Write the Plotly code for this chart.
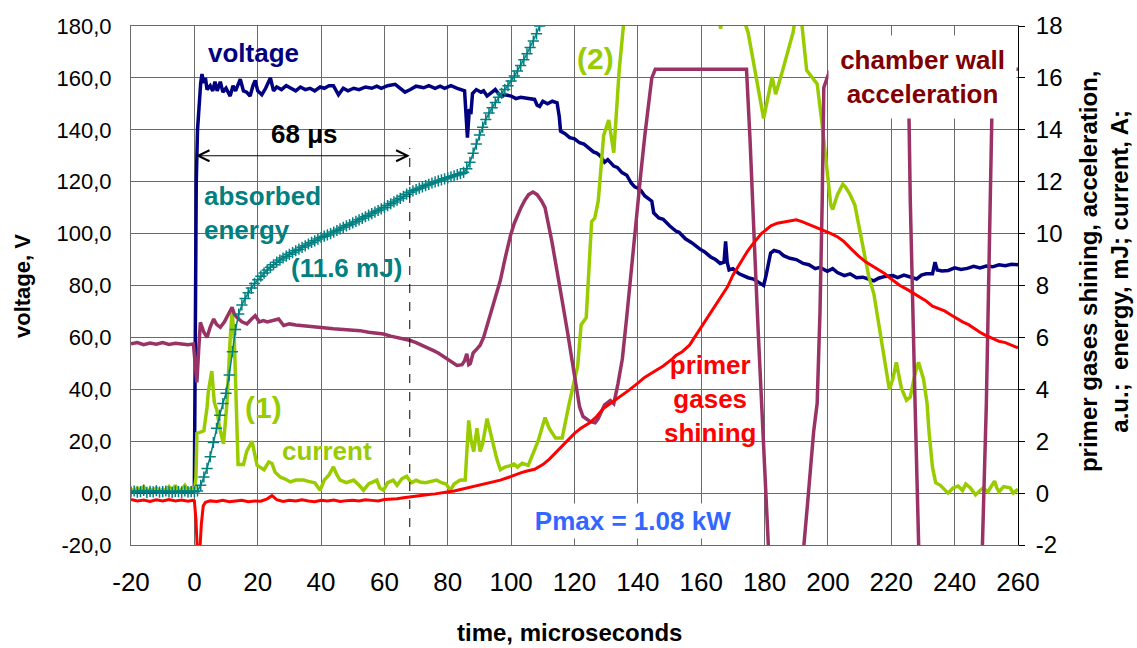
import plotly.graph_objects as go

# ---------------- data ----------------
# voltage, V (left axis)
volt_t = [-20, -15, -10, -5, -0.5, 0, 0.3, 0.6, 1.0, 1.5, 2.0, 2.4, 3, 3.5, 4, 5, 5.8, 6.5, 7.2, 8.2, 9, 10, 11.3, 12.2, 13,
          14.5, 15.5, 16.5, 17.6, 18.5, 19.2, 20, 21.3, 22.5, 24, 25, 26, 27.5, 29, 30.5, 32, 33.5, 35, 36.5, 38, 39.7,
          41, 42.5, 43.9, 45.5, 47, 48.5, 50.3, 52, 54, 56, 57.6, 59, 61, 63.4, 65, 66.5, 68.2, 70, 72.4, 74, 76, 77.6,
          79, 81, 83, 84.5, 85.3, 85.8, 86.2, 86.8, 87.3, 87.8, 89, 90.5, 91.3, 92.4, 93.5, 95, 96.6, 98, 100, 101.5,
          103, 105, 107.4, 108.2, 109, 110, 111.5, 113, 114.5, 115.2, 115.6, 117, 118.5, 120, 121.6, 123, 124.5, 126,
          127, 128.1, 129.5, 130.5, 132.4, 133.5, 135, 136.5, 137.9, 139, 140, 141, 142.2, 143.3, 144.4, 145, 146.6,
          148, 150, 152, 153, 155, 157, 159.6, 161, 163, 164.5, 166, 167.2, 167.7, 168.2, 168.8, 170, 172, 174.8,
          176.5, 178, 179.7, 180.5, 181.3, 181.9, 183, 184.6, 186, 188, 190, 192.2, 194, 196, 197.5, 199.8, 201.5,
          203, 205.2, 207, 209, 211, 213, 214.5, 216, 218, 220.5, 222, 224, 226, 228, 229.5, 231, 233, 233.8, 234.5,
          236, 238, 240, 242, 244, 246, 248, 250, 252, 254, 256, 258, 260]
volt_v = [0.5, 0.3, 0.6, 0.4, 0.5, 2, 60, 120, 140, 150, 158, 161.5, 158, 160, 155.5, 157, 155, 158.5, 155, 158.5, 154.5,
          156, 153, 157, 155, 159.5, 155, 154.5, 153, 157, 159, 155, 153.5, 156, 160, 155, 156.5, 155.5, 157, 156, 155,
          156.5, 155.5, 156, 155, 156.5, 156, 157, 157, 153.5, 156, 155, 156, 155.5, 156.5, 156, 156.8, 156, 157, 157.5,
          156, 154.5, 155.5, 156.8, 156.2, 157, 156, 156.8, 156, 157, 156, 155.5, 155, 145, 137, 148, 146, 154, 155.5,
          154.5, 155, 153, 154, 155.5, 153, 153.5, 153, 152, 152.5, 152, 151.7, 149.5, 149, 151, 150, 151, 150.4, 145,
          139.5, 138.5, 137, 136.5, 135, 134.5, 133, 131.5, 131, 130, 127.5, 128.5, 126, 125.5, 123.5, 122.5, 119.5, 118,
          117.5, 116.5, 114.5, 113.3, 112.5, 108, 106, 105.5, 103, 101, 100.5, 98, 96.5, 94, 93, 91, 90, 88.5, 89, 97,
          89, 86, 86.5, 84.5, 83, 82.5, 81.5, 80, 84, 90, 92.5, 93.5, 93, 91.5, 90.5, 90, 88.5, 88, 86.5, 87, 85.5, 86.5,
          85, 83.8, 84.5, 83, 83.2, 82.4, 81.8, 82.8, 83.5, 83.8, 83, 84, 83.2, 82.5, 84, 84.5, 84.5, 89, 86, 85.6, 85.8,
          86.8, 86.2, 86.6, 87.4, 86.8, 87.5, 87.2, 88, 87.6, 88.2, 88]

# absorbed energy, mJ (right axis)
energy_t = list(range(-20, 111))
energy_v = [0.05, 0.08, 0.04, 0.06, 0.1, 0.03, 0.07, 0.05, 0.09, 0.04, 0.06, 0.08, 0.05, 0.03, 0.07, 0.06, 0.04, 0.08,
            0.05, 0.06, 0.05,
            0.08, 0.3, 0.62, 0.95, 1.4, 1.95, 2.5, 3.0, 3.45, 3.85, 4.55, 5.45, 6.3, 6.9, 7.25, 7.5, 7.72, 7.9, 8.08,
            8.22, 8.36, 8.48, 8.6, 8.7, 8.8, 8.9, 8.98, 9.06, 9.13, 9.2, 9.27, 9.34, 9.4, 9.47, 9.53, 9.6, 9.66, 9.72,
            9.79, 9.85, 9.9, 9.95, 10.0, 10.06, 10.12, 10.18, 10.24, 10.3, 10.35, 10.41, 10.47, 10.53, 10.59, 10.65,
            10.71, 10.77, 10.83, 10.89, 10.95, 11.01, 11.08, 11.15, 11.22, 11.29, 11.36, 11.44, 11.52, 11.59, 11.65,
            11.7, 11.75, 11.8, 11.85, 11.9, 11.95, 11.99, 12.03, 12.07, 12.11, 12.15, 12.19, 12.23, 12.27, 12.31,
            12.36, 12.5, 12.75, 13.1, 13.45, 13.8, 14.1, 14.4, 14.65, 14.85, 15.05, 15.25, 15.4, 15.55, 15.7, 15.88,
            16.07, 16.27, 16.48, 16.7, 16.93, 17.17, 17.42, 17.7, 18.0, 18.3]

# current, A (right axis)
curr_t = [-20, -19, -18, -17, -16, -15, -14, -13, -12, -11, -10, -9, -8, -7, -6, -5, -4, -3, -2, -1, 0, 0.5, 0.8, 1.9,
          3, 4, 4.4, 5.5, 6.3, 7.1, 8, 9.2, 10.3, 11.3, 11.9, 12.6, 13.4, 13.8, 15.5, 16.5, 18.2, 19.2, 19.8, 20.7, 22,
          23.5, 24.5, 25.5, 27.1, 28.5, 30.3, 32, 34.5, 36, 38, 39.7, 41, 42.5, 43.9, 45, 46, 48, 50.3, 52, 53.4, 55,
          57.6, 58.5, 59.7, 61, 62.8, 64, 65.5, 67, 68.5, 70, 71.2, 73, 75, 76.5, 78, 79.5, 80.8, 82, 83.9, 85.5, 86.6,
          87.4, 88.2, 89.2, 90.2, 91, 92.4, 93.5, 94.5, 95.5, 96.6, 98, 99.5, 100.9, 102, 103.5, 105.4, 106.5, 107.4,
          108.5, 110.7, 112, 114, 116.1, 118.3, 121, 122.1, 123.7, 125.4, 126.4, 127.5, 129.2, 130.8, 132.4, 134.1,
          135.7, 137, 150, 165, 166.1, 167, 172, 173.7, 174.8, 177, 179.7, 182.4, 183.5, 185.7, 189, 189.5, 190.5,
          191.7, 193.3, 196.6, 198.2, 200.9, 201.5, 203, 204.7, 205.5, 207, 208.5, 210.7, 212.9, 214.5, 217.2, 219.4,
          220.5, 221.6, 223.2, 224.8, 226, 227.5, 228.6, 230.2, 231.3, 231.9, 233, 234, 235.5, 237.9, 239.5, 241.1,
          242.5, 243.5, 245, 246.6, 248, 249, 250.5, 252.6, 253.3, 254, 255.5, 257.5, 258.5, 260]
curr_v = [0.15, 0.05, 0.2, 0.1, 0.25, 0.05, 0.15, 0.1, 0.2, 0.05, 0.15, 0.1, 0.25, 0.1, 0.3, 0.05, 0.15, 0.3, 0.1, 0.2,
          0.05, 0.6, 2.3, 2.35, 2.4, 3.3, 3.9, 4.7, 3.5, 3.2, 2.5, 1.9, 3.5, 5.9, 7.0, 6.0, 3.0, 1.1, 1.1, 1.6, 2.0, 1.4,
          1.07, 1.0, 0.9, 1.2, 1.14, 0.8, 0.62, 0.55, 0.43, 0.5, 0.5, 0.45, 0.4, 0.11, 0.5, 0.7, 1.01, 0.7, 0.5, 0.4,
          0.5, 0.3, 0.11, 0.35, 0.5, 0.2, 0.11, 0.4, 0.5, 0.3, 0.55, 0.65, 0.4, 0.5, 0.43, 0.4, 0.45, 0.5, 0.4, 0.35,
          0.11, 0.35, 0.5, 0.5, 2.8, 2.0, 1.6, 2.5, 1.6, 1.9, 2.87, 2.3, 1.83, 1.3, 0.9, 1.0, 1.05, 1.12, 1.0, 1.15,
          1.07, 1.4, 1.72, 2.0, 2.91, 2.5, 2.12, 2.12, 3.44, 4.9, 6.49, 6.76, 10.46, 10.6, 11.26, 13.78, 14.38, 13.12,
          16.29, 18.15, 20, 22, 19, 17.9, 18.5, 19.5, 18.15, 17.75, 16.29, 14.44, 16.03, 15.37, 16.29, 17.75, 18.15,
          18.6, 18.15, 16.29, 15.77, 14.18, 11.1, 10.93, 11.5, 11.9, 11.8, 11.5, 11.1, 9.67, 8.34, 7.68, 5.7, 3.98,
          4.4, 5.04, 4.04, 3.58, 3.7, 4.6, 5.04, 4.38, 3.45, 2.38, 1.0, 0.4, 0.3, 0.0, 0.2, 0.27, 0.1, 0.35, 0.2,
          -0.07, 0.1, 0.2, 0.05, 0.46, 0.2, 0.05, 0.25, 0.2, 0.0, 0.15]

# primer gases shining, a.u. (right axis)
shine_t = [-20, -18, -16, -14, -12, -10, -8, -6, -4, -2, -0.5, 0, 0.5, 1.0, 1.6, 2.2, 2.8, 3.5, 5, 7, 9, 11, 13, 15,
           17, 19, 21, 23, 24.5, 26, 28, 30, 32, 34, 36, 38, 40, 42, 44, 46, 48, 50, 52, 54, 56, 58, 60, 62, 64, 66,
           68.2, 70, 72, 74, 76, 78, 80.3, 82, 84, 86, 88, 90, 92.4, 94, 96.6, 99, 101, 103, 105, 107.4, 110, 112,
           114, 116, 118.3, 120, 122, 124.8, 127, 129, 131.3, 133, 135, 137, 140, 142, 144, 146, 148, 150.9, 152, 154,
           156.3, 158, 160, 162, 164, 166, 168.3, 170, 171.6, 173, 174.5, 175.9, 177.5, 179, 180.3, 182, 184, 186.8,
           188.5, 190, 192, 194.4, 196.5, 198.7, 201, 203.1, 205, 207, 209.6, 212, 214, 216.1, 218, 220, 222.6, 225,
           227, 229.2, 231, 233, 235, 236.8, 239, 241, 242.5, 244.4, 246, 248, 249.5, 250.9, 252.5, 254, 256, 258, 260]
shine_v = [-0.25, -0.3, -0.27, -0.32, -0.26, -0.3, -0.25, -0.3, -0.27, -0.31, -0.28, -0.3, -1.0, -2.4, -2.5, -1.2,
           -0.5, -0.35, -0.3, -0.32, -0.28, -0.33, -0.3, -0.28, -0.33, -0.3, -0.31, -0.22, -0.1, -0.25, -0.32, -0.28,
           -0.3, -0.26, -0.3, -0.33, -0.28, -0.3, -0.27, -0.32, -0.29, -0.28, -0.3, -0.26, -0.28, -0.3, -0.25, -0.24,
           -0.22, -0.18, -0.14, -0.1, -0.08, -0.05, -0.03, 0.02, 0.05, 0.08, 0.14, 0.18, 0.25, 0.3, 0.37, 0.43, 0.5,
           0.6, 0.7, 0.78, 0.85, 0.92, 1.1, 1.3, 1.55, 1.8, 2.1, 2.3, 2.5, 2.71, 2.95, 3.25, 3.45, 3.6, 3.75, 3.95,
           4.24, 4.45, 4.6, 4.75, 4.9, 5.17, 5.3, 5.45, 5.7, 6.02, 6.4, 6.78, 7.16, 7.5, 7.95, 8.4, 8.74, 9.0, 9.3,
           9.54, 9.8, 10.0, 10.13, 10.3, 10.4, 10.46, 10.5, 10.53, 10.45, 10.33, 10.25, 10.13, 10.0, 9.87, 9.7, 9.45,
           9.14, 8.9, 8.75, 8.61, 8.45, 8.25, 8.01, 7.85, 7.7, 7.55, 7.4, 7.2, 7.1, 7.02, 6.85, 6.7, 6.6, 6.49, 6.35,
           6.2, 6.1, 6.03, 5.95, 5.85, 5.8, 5.7, 5.6]

# chamber wall acceleration, a.u. (right axis)
accel_t = [-20, -18, -16, -14, -12, -10, -8, -6, -4, -2, -0.3, 0.3, 0.8, 1.4, 1.9, 3, 4, 5, 6.1, 7, 8.2, 9.5, 10.8,
           11.9, 12.6, 13.4, 15, 16.6, 18, 19.2, 20.5, 21.8, 23, 25, 26.6, 28.2, 30, 32, 35.5, 38, 40, 43.9, 47, 50,
           52.3, 55, 57, 59.7, 62, 64, 66, 68.2, 70, 72, 74, 75.5, 77, 79, 81, 82.9, 84.5, 85.3, 86, 86.6, 87.1, 88,
           89.2, 90.2, 91.3, 92.5, 94.5, 95.5, 96.6, 98, 99.8, 101, 102, 103.1, 104.2, 105.5, 106.9, 108.2, 109.6,
           110.7, 112.9, 114.5, 116.1, 117.8, 119.4, 120.5, 121.6, 122.7, 123.7, 125, 126.5, 127.4, 128.1, 129.5,
           131.3, 132.4, 133.7, 135.1, 136.5, 137.9, 139, 140, 141, 142.2, 143.3, 144.4, 145.5, 150, 155, 160, 165,
           170, 174.3, 175.4, 175.9, 177, 178, 179, 180, 181.3, 184, 186.5, 189, 192.2, 193.5, 195.5, 196.6, 197.5,
           198.2, 198.7, 200.4, 205, 210, 215, 220, 225, 225.6, 226, 227.5, 228.7, 231, 240, 246, 248.7, 250.0,
           251.4, 251.9, 252.5, 256, 260]
accel_v = [5.75, 5.8, 5.72, 5.78, 5.74, 5.8, 5.73, 5.77, 5.75, 5.72, 5.75, 5.0, 4.27, 5.6, 6.58, 6.2, 6.0, 6.4, 6.71,
           6.5, 6.39, 6.6, 6.9, 7.16, 6.9, 6.77, 6.6, 6.52, 6.7, 6.84, 6.6, 6.65, 6.6, 6.68, 6.71, 6.46, 6.52, 6.48,
           6.45, 6.4, 6.38, 6.33, 6.3, 6.27, 6.26, 6.2, 6.17, 6.13, 6.05, 6.0, 5.95, 5.88, 5.8, 5.7, 5.6, 5.49, 5.4,
           5.25, 5.1, 4.92, 4.95, 5.1, 5.37, 4.95, 4.99, 5.4, 5.56, 5.7, 6.0, 6.5, 7.29, 7.8, 8.2, 9.0, 9.93, 10.4,
           10.73, 11.0, 11.26, 11.5, 11.6, 11.5, 11.26, 11.0, 9.67, 8.6, 7.42, 6.2, 4.9, 4.0, 3.32, 2.95, 2.85, 2.75,
           2.71, 2.85, 3.04, 3.4, 3.57, 3.45, 4.2, 5.17, 6.8, 8.61, 10.0, 11.0, 12.4, 13.78, 15.0, 16.0, 16.33, 16.33,
           16.33, 16.33, 16.33, 16.33, 16.33, 13.65, 12.0, 9.0, 6.2, 3.6, 1.0, -2.3, -5.0, -6.0, -5.0, -2.3, -0.5,
           2.38, 3.45, 7.0, 11.3, 15.63, 16.23, 16.33, 16.33, 16.33, 16.33, 16.33, 14.4, 11.26, 3.5, -2.3, -5.0, -6.0,
           -5.0, -2.3, 3.4, 12.5, 15.5, 16.33, 16.33, 16.33]

# axis ticks
x_ticks = list(range(-20, 261, 20))
x_ticktext = [str(v) for v in x_ticks]
y_ticks = list(range(-20, 181, 20))
y_ticktext = [f"{v},0" for v in y_ticks]
y2_ticks = list(range(-2, 19, 2))
y2_ticktext = [str(v) for v in y2_ticks]

# 68 us marker
MARK_T = 68
MARK_TOP = 133
ARROW_Y = 130

FONT = "Arial, Liberation Sans, sans-serif"

fig = go.Figure()

fig.add_trace(go.Scatter(x=curr_t, y=curr_v, yaxis="y2", mode="lines",
                         line=dict(color="#99CC00", width=3.5), name="current"))
fig.add_trace(go.Scatter(x=volt_t, y=volt_v, mode="lines",
                         line=dict(color="#000080", width=3.5), name="voltage"))
fig.add_trace(go.Scatter(x=accel_t, y=accel_v, yaxis="y2", mode="lines",
                         line=dict(color="#993366", width=3.5), name="acceleration"))
fig.add_trace(go.Scatter(x=shine_t, y=shine_v, yaxis="y2", mode="lines",
                         line=dict(color="#FF0000", width=3), name="shining"))
fig.add_trace(go.Scatter(x=energy_t, y=energy_v, yaxis="y2", mode="lines+markers",
                         line=dict(color="#008080", width=1.5),
                         marker=dict(symbol="cross-thin", size=8, line=dict(color="#008080", width=1.5)),
                         name="energy"))

grid = "#6a6a6a"
fig.update_layout(
    width=1137, height=648,
    margin=dict(l=131, r=119, t=24, b=103),
    paper_bgcolor="white", plot_bgcolor="white",
    showlegend=False,
    font=dict(family=FONT, color="black"),
    xaxis=dict(range=[-20, 260], tickvals=x_ticks, ticktext=x_ticktext, showgrid=True, gridcolor=grid, gridwidth=1,
               zeroline=False, showline=True, linecolor=grid, linewidth=1, mirror=True,
               ticks="", tickfont=dict(size=26, family=FONT), ticklabelstandoff=14),
    yaxis=dict(range=[-20, 180], tickvals=y_ticks, ticktext=y_ticktext, showgrid=True, gridcolor=grid,
               gridwidth=1, zeroline=False, showline=True, linecolor=grid, linewidth=1, mirror=True,
               ticks="", tickfont=dict(size=22, family=FONT), ticklabelstandoff=14),
    yaxis2=dict(range=[-2, 18], tickvals=y2_ticks, ticktext=y2_ticktext, overlaying="y", side="right",
                showgrid=False, zeroline=False, showline=True, linecolor="black", linewidth=1,
                ticks="outside", ticklen=6, tickcolor="black",
                tickfont=dict(size=24, family=FONT), ticklabelstandoff=6),
)

fig.add_shape(type="line", xref="x", yref="y", x0=MARK_T, x1=MARK_T, y0=-20, y1=MARK_TOP,
              line=dict(color="black", width=1, dash="dash"))

ann = []
ann.append(dict(x=MARK_T, y=ARROW_Y, ax=0, ay=ARROW_Y, xref="x", yref="y", axref="x", ayref="y", text="",
                showarrow=True, arrowhead=5, startarrowhead=5, arrowside="end+start", arrowsize=2.2,
                startarrowsize=2.2, arrowwidth=1, arrowcolor="black", standoff=0, startstandoff=0))

def label(x, y, text, color, size=26, xanchor="center", align="center", **kw):
    d = dict(x=x, y=y, xref="x", yref="y", text=text, showarrow=False, xanchor=xanchor, yanchor="middle",
             align=align, font=dict(family=FONT, size=size, color=color))
    d.update(kw)
    ann.append(d)

label(34.7, 138.3, "<b>68 μs</b>", "black")
label(18.6, 169.5, "<b>voltage</b>", "#000080")
label(2.4, 108, "<b>absorbed<br>energy</b>", "#008080", xanchor="left", align="left")
label(47.9, 86.6, "<b>(11.6 mJ)</b>", "#008080")
label(21.9, 33, "<b>(1)</b>", "#99CC00", size=30)
label(42, 16.1, "<b>current</b>", "#99CC00")
label(126.5, 167.5, "<b>(2)</b>", "#99CC00", size=30)
label(162.8, 36.1, "<b>primer<br>gases<br>shining</b>", "#FF0000")
label(138.5, -10.6, "<b>Pmax = 1.08 kW</b>", "#3366FF", bgcolor="white", width=210, height=34, borderpad=0)
label(229.9, 160.2, "<b>chamber wall<br>acceleration</b>", "#800000", bgcolor="white", width=187, height=82,
      borderpad=0)

# axis titles
ann.append(dict(x=(569 - 131) / 887, y=(545 - 633) / 521, xref="paper", yref="paper", showarrow=False,
                text="<b>time, microseconds</b>", font=dict(family=FONT, size=24, color="black"),
                xanchor="center", yanchor="middle"))
ann.append(dict(x=(23 - 131) / 887, y=(545 - 285) / 521, xref="paper", yref="paper", showarrow=False,
                text="<b>voltage, V</b>", textangle=-90, font=dict(family=FONT, size=22, color="black"),
                xanchor="center", yanchor="middle"))
ann.append(dict(x=(1104 - 131) / 887, y=(545 - 271) / 521, xref="paper", yref="paper", showarrow=False,
                text="<b>primer gases shining, acceleration,<br>a.u.;  energy, mJ; current, A;</b>", textangle=-90,
                font=dict(family=FONT, size=24, color="black"), xanchor="center", yanchor="middle"))

fig.update_layout(annotations=ann)
fig.write_html("out.html")
